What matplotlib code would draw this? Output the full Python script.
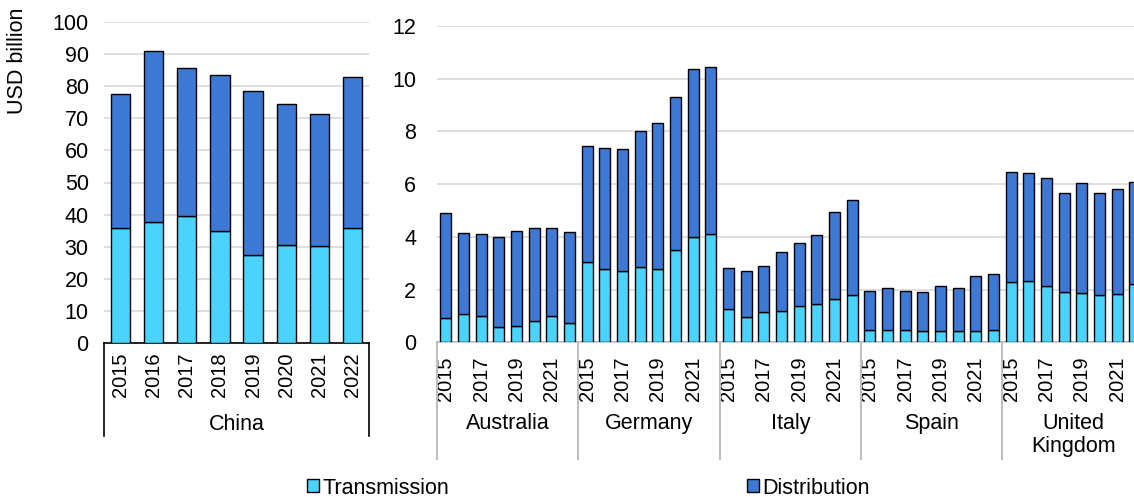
import matplotlib
matplotlib.use('Agg')
from matplotlib import pyplot as plt
from matplotlib.patches import Patch
import numpy as np

plt.rcParams['font.family'] = ['Liberation Sans', 'DejaVu Sans']
plt.rcParams['font.size'] = 15

years = ['2015', '2016', '2017', '2018', '2019', '2020', '2021', '2022']

# China, USD billion
china_transmission = [35.8, 37.7, 39.5, 35.0, 27.5, 30.4, 30.3, 35.7]
china_distribution = [41.7, 53.3, 46.3, 48.4, 51.0, 44.0, 41.1, 47.2]

# other countries, USD billion
countries = ['Australia', 'Germany', 'Italy', 'Spain', 'United\nKingdom']
transmission = [
    [0.91, 1.09, 1.01, 0.59, 0.61, 0.81, 1.00, 0.75],
    [3.06, 2.79, 2.71, 2.85, 2.79, 3.49, 3.98, 4.10],
    [1.25, 0.96, 1.16, 1.20, 1.39, 1.47, 1.64, 1.78],
    [0.47, 0.46, 0.47, 0.42, 0.43, 0.42, 0.42, 0.47],
    [2.28, 2.31, 2.14, 1.90, 1.88, 1.81, 1.83, 2.23],
]
distribution = [
    [4.01, 3.07, 3.10, 3.39, 3.60, 3.51, 3.32, 3.42],
    [4.40, 4.58, 4.62, 5.17, 5.52, 5.82, 6.40, 6.33],
    [1.57, 1.75, 1.74, 2.24, 2.37, 2.60, 3.29, 3.62],
    [1.49, 1.59, 1.48, 1.48, 1.71, 1.64, 2.11, 2.12],
    [4.17, 4.11, 4.08, 3.75, 4.18, 3.86, 3.99, 3.85],
]

trans_color = '#4AD4FD'
dist_color = '#3D79D4'
grid_color = '#D9D9D9'
fs = 15.5
year_fs = 14.5

W, H = 1134, 497
fig = plt.figure(figsize=(W / 100, H / 100), dpi=100)


def frac_box(x0, y_top, x1, y_bottom):
    # pixel box -> figure fractions
    return [x0 / W, 1 - y_bottom / H, (x1 - x0) / W, (y_bottom - y_top) / H]


# ---- China ----
ax1 = fig.add_axes(frac_box(104, 22, 369, 343))
x = np.arange(len(years))
ax1.bar(x, china_transmission, width=0.58, color=trans_color, edgecolor='black', linewidth=1, zorder=3)
ax1.bar(x, china_distribution, width=0.58, bottom=china_transmission, color=dist_color,
        edgecolor='black', linewidth=1, zorder=3)
ax1.set_xlim(-0.5, len(years) - 0.5)
ax1.set_ylim(0, 100)
ax1.set_yticks(range(0, 101, 10))
ax1.yaxis.grid(True, color=grid_color, linewidth=1.2)
ax1.set_axisbelow(True)
for s in ['top', 'left', 'right']:
    ax1.spines[s].set_visible(False)
ax1.spines['bottom'].set_color('black')
ax1.spines['bottom'].set_linewidth(1.2)
ax1.tick_params(axis='y', length=0, pad=11, labelsize=fs)
ax1.set_xticks(x)
ax1.set_xticklabels(years, rotation=90, fontsize=year_fs)
ax1.tick_params(axis='x', length=0, pad=7)
for xv in [-0.5, len(years) - 0.5]:
    ax1.plot([xv, xv], [0, -0.29], color='black', linewidth=1.2, clip_on=False,
             transform=ax1.get_xaxis_transform())
ax1.text(3.5, -0.22, 'China', ha='center', va='top', fontsize=fs,
         transform=ax1.get_xaxis_transform())

# ---- other countries ----
n_years = len(years)
ax2 = fig.add_axes(frac_box(437, 26, 437 + 40 * 17.67, 342.3))
for g, name in enumerate(countries):
    pos = np.arange(n_years) + g * n_years
    ax2.bar(pos, transmission[g], width=0.62, color=trans_color, edgecolor='black',
            linewidth=1, zorder=3)
    ax2.bar(pos, distribution[g], width=0.62, bottom=transmission[g], color=dist_color,
            edgecolor='black', linewidth=1, zorder=3)
    ax2.text(g * n_years + 3.5, -0.225, name, ha='center', va='top', fontsize=fs,
             linespacing=1.1, transform=ax2.get_xaxis_transform())
for b in range(len(countries) + 1):
    xv = b * n_years - 0.5
    ax2.plot([xv, xv], [0, -0.37], color='#BFBFBF', linewidth=1.5, clip_on=False,
             transform=ax2.get_xaxis_transform())

ax2.set_xlim(-0.5, len(countries) * n_years - 0.5)
ax2.set_ylim(0, 12)
ax2.set_yticks(range(0, 13, 2))
ax2.yaxis.grid(True, color=grid_color, linewidth=1.2)
ax2.set_axisbelow(True)
for s in ['top', 'left', 'right']:
    ax2.spines[s].set_visible(False)
ax2.spines['bottom'].set_color('#BFBFBF')
ax2.spines['bottom'].set_linewidth(1.2)
ax2.tick_params(axis='y', length=0, pad=15, labelsize=fs)
all_pos = np.arange(len(countries) * n_years)
ax2.set_xticks(all_pos)
ax2.set_xticklabels([years[i % n_years] if i % 2 == 0 else '' for i in all_pos],
                    rotation=90, fontsize=year_fs)
ax2.tick_params(axis='x', direction='in', length=3, color='#BFBFBF', pad=10)

fig.text(18 / W, 1 - 8 / H, 'USD billion', rotation=90, ha='center', va='top', fontsize=fs)

# legend, two separate entries
h_trans = Patch(facecolor=trans_color, edgecolor='black', linewidth=1)
h_dist = Patch(facecolor=dist_color, edgecolor='black', linewidth=1)
for h, label, xpos in [(h_trans, 'Transmission', 307), (h_dist, 'Distribution', 747)]:
    fig.legend(handles=[h], labels=[label], loc='center left',
               bbox_to_anchor=(xpos / W, 1 - 488 / H), frameon=False, fontsize=fs,
               handlelength=0.55, handleheight=0.55, handletextpad=0.15, borderpad=0,
               borderaxespad=0)

fig.savefig('out.png', dpi=100)
